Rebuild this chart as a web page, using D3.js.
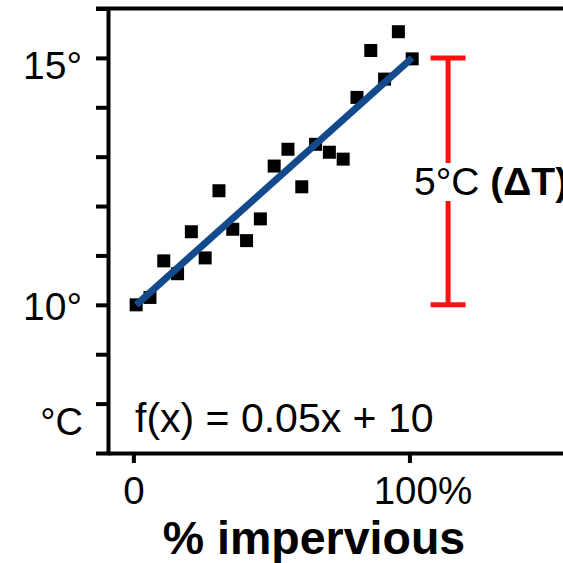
<!DOCTYPE html>
<html>
<head>
<meta charset="utf-8">
<script src="https://cdn.jsdelivr.net/npm/d3@7"></script>
<style>
  html, body { margin: 0; padding: 0; background: #fff; }
  svg { display: block; font-family: "Liberation Sans", Arial, sans-serif; }
</style>
</head>
<body>
<svg id="chart" width="563" height="563"></svg>
<script>
"use strict";

// % impervious surface vs temperature
var impervious = [1, 6, 11, 16, 21, 26, 31, 36, 41, 46, 51, 56, 61, 66, 71, 76, 81, 86, 91, 96, 101];
var temperature = [10.0, 10.15, 10.89, 10.63, 11.48, 10.95, 12.31, 11.53, 11.3, 11.74, 12.81,
  13.15, 12.39, 13.25, 13.09, 12.95, 14.2, 15.15, 14.57, 15.53, 14.98];

// fitted line f(x) = 0.05x + 10 (end points as drawn)
var fitX = [1, 101];
var fitY = [10, 15];

// delta T bracket
var deltaX = 114;
var deltaRange = [10, 15];

var xTicks = [0, 100];
var xTickLabels = ["0", "100%"];
var yTicks = [8, 9, 10, 11, 12, 13, 14, 15];
var yTickLabels = { 10: "10°", 15: "15°" };

var svg = d3.select("#chart");

var x = d3.scaleLinear().domain([-9.2, 156]).range([108, 564]);
var y = d3.scaleLinear().domain([7, 16]).range([453, 8.5]);

// y axis
var yAxis = svg.append("g")
  .attr("transform", "translate(" + x(-9.2) + ",0)")
  .call(d3.axisLeft(y).tickValues(yTicks).tickSize(12).tickSizeOuter(12)
    .tickFormat(function (d) { return yTickLabels[d] || ""; }));
yAxis.select(".domain").attr("stroke", "#000").attr("stroke-width", 4);
yAxis.selectAll(".tick line").attr("stroke", "#000").attr("stroke-width", 4);
yAxis.selectAll(".tick text")
  .attr("x", -26)
  .attr("dy", function (d) { return d === 15 ? "0.52em" : "0.38em"; })
  .attr("fill", "#000")
  .style("font-size", "39px")
  .style("font-family", "Liberation Sans, Arial, sans-serif");

// top frame line
svg.append("line")
  .attr("x1", x(-9.2) - 12).attr("x2", 564)
  .attr("y1", y(16)).attr("y2", y(16))
  .attr("stroke", "#000").attr("stroke-width", 4);

// x axis
var xAxis = svg.append("g")
  .attr("transform", "translate(0," + y(7) + ")")
  .call(d3.axisBottom(x).tickValues(xTicks).tickSize(10).tickSizeOuter(0)
    .tickFormat(function (d, i) { return xTickLabels[i]; }));
xAxis.select(".domain").attr("stroke", "#000").attr("stroke-width", 4);
xAxis.selectAll(".tick line").attr("stroke", "#000").attr("stroke-width", 4);
xAxis.selectAll(".tick text")
  .attr("y", 24)
  .attr("dy", "0.71em")
  .attr("dx", function (d) { return d === 100 ? 13 : 0; })
  .attr("fill", "#000")
  .style("font-size", "38.5px")
  .style("font-family", "Liberation Sans, Arial, sans-serif");

// unit label
svg.append("text")
  .attr("x", 83).attr("y", 435)
  .attr("text-anchor", "end")
  .style("font-size", "38px")
  .text("°C");

// x axis title
svg.append("text")
  .attr("x", 314).attr("y", 554)
  .attr("text-anchor", "middle")
  .style("font-size", "46.5px")
  .style("font-weight", "bold")
  .text("% impervious");

// points
var sq = 13;
svg.append("g").selectAll("rect")
  .data(impervious)
  .enter()
  .append("rect")
  .attr("x", function (d) { return x(d) - sq / 2; })
  .attr("y", function (d, i) { return y(temperature[i]) - sq / 2; })
  .attr("width", sq)
  .attr("height", sq)
  .attr("fill", "#000");

// regression line
svg.append("path")
  .datum(fitX.map(function (d, i) { return [d, fitY[i]]; }))
  .attr("d", d3.line().x(function (d) { return x(d[0]); }).y(function (d) { return y(d[1]); }))
  .attr("stroke", "#134a8b")
  .attr("stroke-width", 7)
  .attr("fill", "none");

// equation
svg.append("text")
  .attr("x", 135).attr("y", 432)
  .style("font-size", "41px")
  .text("f(x) = 0.05x + 10");

// delta T bracket
var bx = x(deltaX);
var red = "#ff1010";
var capW = 35;
var gapTop = 163, gapBottom = 201;
var bracket = svg.append("g").attr("stroke", red).attr("stroke-width", 5);
bracket.append("line").attr("x1", bx).attr("x2", bx).attr("y1", y(deltaRange[1])).attr("y2", gapTop);
bracket.append("line").attr("x1", bx).attr("x2", bx).attr("y1", gapBottom).attr("y2", y(deltaRange[0]));
bracket.append("line").attr("x1", bx - capW / 2).attr("x2", bx + capW / 2)
  .attr("y1", y(deltaRange[1])).attr("y2", y(deltaRange[1]));
bracket.append("line").attr("x1", bx - capW / 2).attr("x2", bx + capW / 2)
  .attr("y1", y(deltaRange[0])).attr("y2", y(deltaRange[0]));

var dt = svg.append("text")
  .attr("x", 414).attr("y", 195)
  .style("font-size", "39px");
dt.append("tspan").text("5°C ");
dt.append("tspan").style("font-weight", "bold").text("(ΔT)");
</script>
</body>
</html>
